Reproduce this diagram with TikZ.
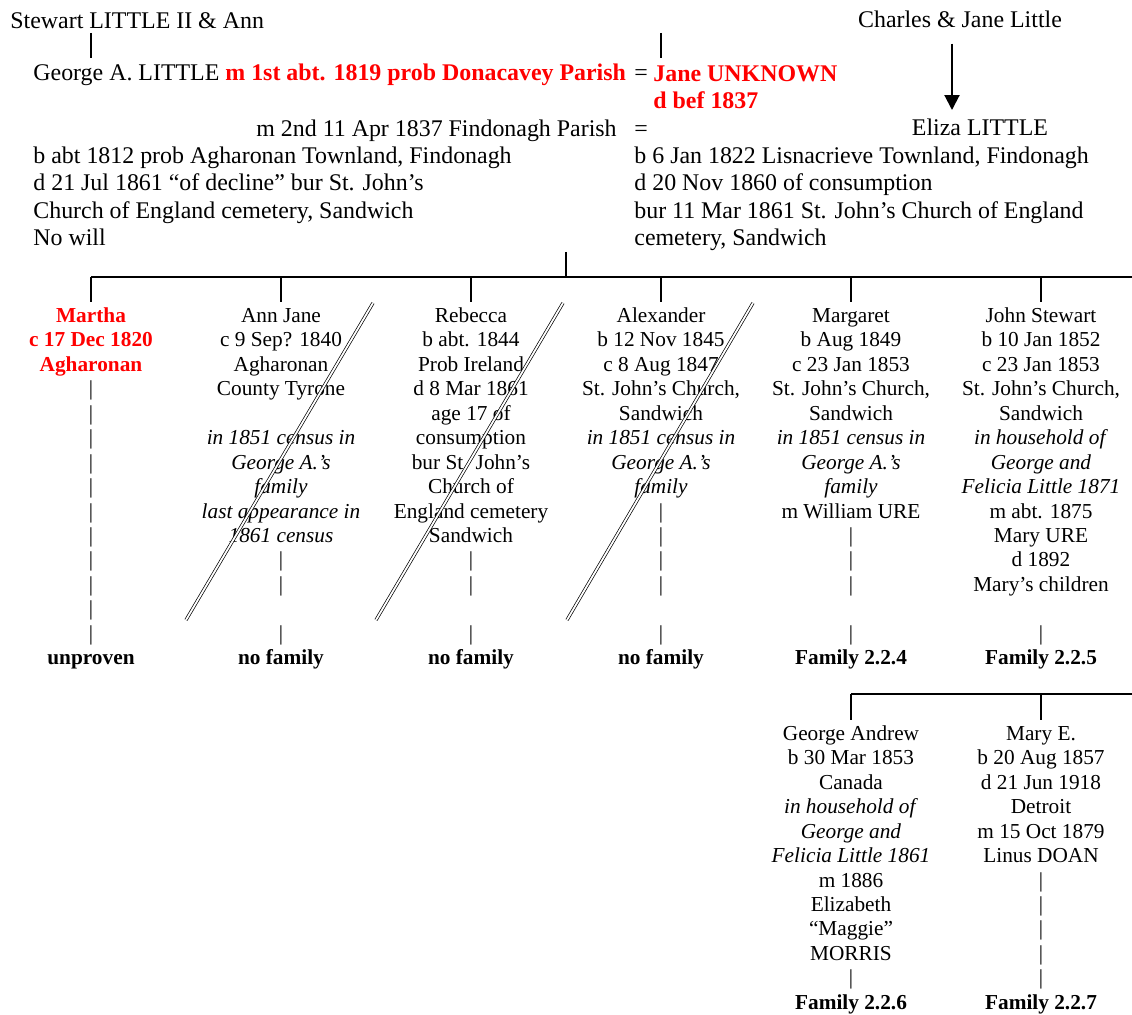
\documentclass[tikz,border=0pt]{standalone}
\usepackage{fontspec}
\setmainfont{Liberation Serif}
\usetikzlibrary{arrows.meta}

\newcommand{\redbf}[1]{\textcolor{red}{\bfseries #1}}

\begin{document}
\begin{tikzpicture}[x=0.5pt,y=-0.5pt,
	bar/.style={line width=1pt},
	drop/.style={line width=1pt,shorten >=1.5pt},
	arr/.style={line width=1pt,-{Triangle[length=7.5pt,width=7.5pt]}},
	strike/.style={double,line width=0.35pt,double distance=0.9pt},
	txt/.style={inner sep=0pt,font=\fontsize{11.95}{13.65}\selectfont},
	kid/.style={inner sep=0pt,anchor=north,align=center,font=\fontsize{10.65}{12.22}\selectfont}]
	\useasboundingbox (0,0) rectangle (1132,1015);

	% parents
	\node[txt,anchor=base west] (stewart) at (10,29)  {Stewart LITTLE II \& Ann};
	\node[txt,anchor=base]      (charles) at (960,28) {Charles \& Jane Little};
	\node[txt,anchor=base west] (george)  at (33,81)  {George A. LITTLE \redbf{m 1st abt. 1819 prob Donacavey Parish}};
	\node[txt,anchor=base west] (eq1)     at (634,81) {=};
	\node[txt,anchor=north west,align=left] (jane) at (653,61.9)
		{\strut\redbf{Jane UNKNOWN}\\\redbf{d bef 1837}};
	\node[txt,anchor=base west] (m2)      at (256,137) {m 2nd 11 Apr 1837 Findonagh Parish};
	\node[txt,anchor=base west] (eq2)     at (634,137) {=};
	\node[txt,anchor=base]      (eliza)   at (980,136) {Eliza LITTLE};
	\node[txt,anchor=north west,align=left] (gdet) at (33,143.9)
		{\strut b abt 1812 prob Agharonan Townland, Findonagh\\
		 d 21 Jul 1861 “of decline” bur St. John’s\\
		 Church of England cemetery, Sandwich\\
		 No will};
	\node[txt,anchor=north west,align=left] (edet) at (634,143.9)
		{\strut b 6 Jan 1822 Lisnacrieve Townland, Findonagh\\
		 d 20 Nov 1860 of consumption\\
		 bur 11 Mar 1861 St. John’s Church of England\\
		 cemetery, Sandwich};

	\draw[bar] ([shift={(81,4)}]stewart.base west) -- ([shift={(58,-23)}]george.base west);
	\draw[bar] ([shift={(8,-29)}]jane.north west) -- ([shift={(8,-4)}]jane.north west);
	\draw[arr] ([shift={(-8,15)}]charles.south) -- ([shift={(-28,-9)}]eliza.north);

	% children
	\node[kid] (martha) at (91,305)
		{\strut\redbf{Martha}\\\redbf{c 17 Dec 1820}\\\redbf{Agharonan}\\
		 |\\|\\|\\|\\|\\|\\|\\|\\|\\|\\|\\\textbf{unproven}};
	\node[kid] (annj) at (281,305)
		{\strut Ann Jane\\c 9 Sep? 1840\\Agharonan\\County Tyrone\\\strut\\
		 \textit{in 1851 census in}\\\textit{George A.’s}\\\textit{family}\\
		 \textit{last appearance in}\\\textit{1861 census}\\
		 |\\|\\\strut\\|\\\textbf{no family}};
	\node[kid] (rebecca) at (471,305)
		{\strut Rebecca\\b abt. 1844\\Prob Ireland\\d 8 Mar 1861\\age 17 of\\consumption\\
		 bur St. John’s\\Church of\\England cemetery\\Sandwich\\
		 |\\|\\\strut\\|\\\textbf{no family}};
	\node[kid] (alex) at (661,305)
		{\strut Alexander\\b 12 Nov 1845\\c 8 Aug 1847\\St. John’s Church,\\Sandwich\\
		 \textit{in 1851 census in}\\\textit{George A.’s}\\\textit{family}\\
		 |\\|\\|\\|\\\strut\\|\\\textbf{no family}};
	\node[kid] (margaret) at (851,305)
		{\strut Margaret\\b Aug 1849\\c 23 Jan 1853\\St. John’s Church,\\Sandwich\\
		 \textit{in 1851 census in}\\\textit{George A.’s}\\\textit{family}\\
		 m William URE\\|\\|\\|\\\strut\\|\\\textbf{Family 2.2.4}};
	\node[kid] (john) at (1041,305)
		{\strut John Stewart\\b 10 Jan 1852\\c 23 Jan 1853\\St. John’s Church,\\Sandwich\\
		 \textit{in household of}\\\textit{George and}\\\textit{Felicia Little 1871}\\
		 m abt. 1875\\Mary URE\\d 1892\\Mary’s children\\\strut\\|\\\textbf{Family 2.2.5}};
	\node[kid] (georgea) at (851,722.9)
		{\strut George Andrew\\b 30 Mar 1853\\Canada\\
		 \textit{in household of}\\\textit{George and}\\\textit{Felicia Little 1861}\\
		 m 1886\\Elizabeth\\“Maggie”\\MORRIS\\|\\\textbf{Family 2.2.6}};
	\node[kid] (marye) at (1041,722.9)
		{\strut Mary E.\\b 20 Aug 1857\\d 21 Jun 1918\\Detroit\\m 15 Oct 1879\\Linus DOAN\\
		 |\\|\\|\\|\\|\\\textbf{Family 2.2.7}};

	% sibling lines
	\coordinate (fam)  at (566,252);
	\coordinate (bus)  at (566,277);
	\coordinate (rim)  at (1132,277);
	\coordinate (bus2) at (851,694);
	\coordinate (rim2) at (1132,694);
	\draw[bar] (fam) -- (bus);
	\draw[bar] (martha.north |- bus) -- (rim);
	\draw[drop] (martha.north |- bus)   -- (martha.north);
	\draw[drop] (annj.north |- bus)     -- (annj.north);
	\draw[drop] (rebecca.north |- bus)  -- (rebecca.north);
	\draw[drop] (alex.north |- bus)     -- (alex.north);
	\draw[drop] (margaret.north |- bus) -- (margaret.north);
	\draw[drop] (john.north |- bus)     -- (john.north);
	\draw[bar] (bus2) -- (rim2);
	\draw[drop] (georgea.north |- bus2) -- (georgea.north);
	\draw[drop] (marye.north |- bus2)   -- (marye.north);

	% crossed out
	\draw[strike] ([shift={(-95,315)}]annj.north)    -- ([shift={(92,-2)}]annj.north);
	\draw[strike] ([shift={(-95,315)}]rebecca.north) -- ([shift={(92,-2)}]rebecca.north);
	\draw[strike] ([shift={(-94,315)}]alex.north)    -- ([shift={(92,-2)}]alex.north);
\end{tikzpicture}
\end{document}
